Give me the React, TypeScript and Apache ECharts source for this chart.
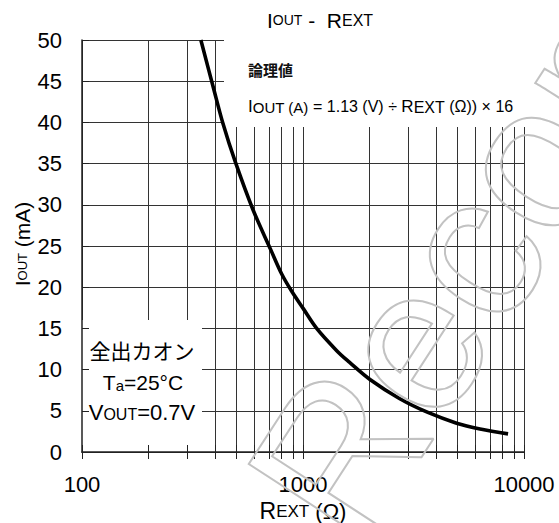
import React, { useEffect, useRef } from "react";
import * as echarts from "echarts";

// Curve values
const rExt = [345, 395, 433, 494, 594, 716, 801, 889, 1003, 1153, 1421, 1621, 2009, 2729, 3673, 4957, 6324, 8470];
const iOut = [50, 44, 40, 35.2, 29.4, 24.5, 21.6, 19.5, 17.4, 15.0, 12.3, 10.9, 8.8, 6.5, 4.8, 3.5, 2.8, 2.2];

const xMin = 100;
const xMax = 10000;
const yMin = 0;
const yMax = 50;
const yStep = 5;

const FONT = '"Liberation Sans", Arial, sans-serif';
const CJK = '"Noto Sans CJK JP", "Noto Sans CJK SC", sans-serif';
const GRID = "#333";
const AXIS = "#222";
const WM = "#c2c2c2";

export default function App() {
  const ref = useRef<HTMLDivElement>(null);

  useEffect(() => {
    if (!ref.current) return;
    const chart = echarts.init(ref.current, null, { renderer: "svg" });
    const data = rExt.map((r, i) => [r, iOut[i]]);

    const logAxisBase = {
      type: "log" as const,
      logBase: 10,
      min: xMin,
      max: xMax,
      gridIndex: 0,
    };

    const wmAngle = (57 * Math.PI) / 180;
    const wmX = 384;
    const wmY = 572;

    const option: any = {
      animation: false,
      backgroundColor: "#fff",
      grid: { left: 82, right: 35, top: 40, bottom: 71, containLabel: false, outerBoundsMode: "none" },
      xAxis: [
        {
          ...logAxisBase,
          position: "bottom",
          axisLine: { show: false },
          axisTick: { show: false },
          axisLabel: {
            show: true,
            fontSize: 22,
            margin: 21,
            color: "#000",
            fontFamily: FONT,
            formatter: (v: number) => String(Math.round(v)),
          },
          splitLine: { show: true, lineStyle: { color: GRID, width: 1 } },
          minorTick: { show: false, splitNumber: 9 },
          minorSplitLine: { show: true, lineStyle: { color: GRID, width: 1 } },
          z: 0,
        },
        {
          ...logAxisBase,
          position: "top",
          axisLine: { show: true, lineStyle: { color: AXIS, width: 1 } },
          axisTick: { show: true, inside: true, length: 7, lineStyle: { color: AXIS } },
          minorTick: { show: true, splitNumber: 9, length: 7, lineStyle: { color: AXIS } },
          axisLabel: { show: false },
          splitLine: { show: false },
          minorSplitLine: { show: false },
          z: 6,
        },
        {
          ...logAxisBase,
          position: "bottom",
          axisLine: { show: true, lineStyle: { color: AXIS, width: 1.5 } },
          axisTick: { show: true, inside: true, length: 7, lineStyle: { color: AXIS } },
          minorTick: { show: true, splitNumber: 9, length: 7, lineStyle: { color: AXIS } },
          axisLabel: { show: false },
          splitLine: { show: false },
          minorSplitLine: { show: false },
          z: 6,
        },
      ],
      yAxis: [
        {
          type: "value",
          min: yMin,
          max: yMax,
          interval: yStep,
          axisLine: { show: false },
          axisTick: { show: false },
          axisLabel: { show: true, fontSize: 22, margin: 20, color: "#000", fontFamily: FONT },
          splitLine: { show: true, lineStyle: { color: GRID, width: 1 } },
          z: 0,
        },
        {
          type: "value",
          min: yMin,
          max: yMax,
          interval: yStep,
          position: "left",
          axisLine: { show: true, lineStyle: { color: AXIS, width: 1.5 } },
          axisTick: { show: true, inside: true, length: 7, lineStyle: { color: AXIS } },
          axisLabel: { show: false },
          splitLine: { show: false },
          z: 6,
        },
      ],
      series: [
        {
          type: "line",
          xAxisIndex: 0,
          yAxisIndex: 0,
          data,
          smooth: 0.35,
          showSymbol: false,
          clip: true,
          lineStyle: { color: "#000", width: 3.6 },
          z: 10,
        },
      ],
      graphic: [
        { type: "rect", z: 5, shape: { x: 224, y: 40, width: 303, height: 87 }, style: { fill: "#fff" } },
        { type: "rect", z: 5, shape: { x: 82, y: 320, width: 120, height: 132 }, style: { fill: "#fff" } },
        {
          type: "text",
          z: 7,
          x: 320,
          y: 20,
          style: {
            text: "{a|I}{b|OUT}{a| -  R}{c|EXT}",
            align: "center",
            verticalAlign: "middle",
            fill: "#000",
            rich: {
              a: { fontSize: 21, fontFamily: FONT, fill: "#000" },
              b: { fontSize: 14, fontFamily: FONT, fill: "#000" },
              c: { fontSize: 16, fontFamily: FONT, fill: "#000" },
            },
          },
        },
        {
          type: "text",
          z: 7,
          x: 248,
          y: 69,
          style: {
            text: "論理値",
            font: `bold 15px ${CJK}`,
            fill: "#111",
            align: "left",
            verticalAlign: "middle",
          },
        },
        {
          type: "text",
          z: 7,
          x: 248,
          y: 106,
          style: {
            text: "{i|I}{b|OUT (A)}{a| = 1.13 (V) ÷ }{r|R}{e|EXT}{a| (Ω)) × 16}",
            align: "left",
            verticalAlign: "middle",
            fill: "#000",
            rich: {
              i: { fontSize: 17, fontFamily: FONT, fill: "#000" },
              a: { fontSize: 16, fontFamily: FONT, fill: "#000" },
              b: { fontSize: 15, fontFamily: FONT, fill: "#000", padding: [2, 0, 0, 0] },
              r: { fontSize: 17, fontFamily: FONT, fill: "#000" },
              e: { fontSize: 16, fontFamily: FONT, fill: "#000", padding: [2, 0, 0, 0] },
            },
          },
        },
        {
          type: "text",
          z: 7,
          x: 142,
          y: 350,
          style: { text: "全出カオン", font: `21px ${CJK}`, fill: "#000", align: "center", verticalAlign: "middle" },
        },
        {
          type: "text",
          z: 7,
          x: 143,
          y: 382,
          style: {
            text: "{a|T}{s|a}{a|=25°C}",
            align: "center",
            verticalAlign: "middle",
            fill: "#000",
            rich: {
              a: { fontSize: 21, fontFamily: FONT, fill: "#000" },
              s: { fontSize: 15, fontFamily: FONT, fill: "#000", padding: [6, 0, 0, 0] },
            },
          },
        },
        {
          type: "text",
          z: 7,
          x: 142,
          y: 412,
          style: {
            text: "{a|V}{s|OUT}{a|=0.7V}",
            align: "center",
            verticalAlign: "middle",
            fill: "#000",
            rich: {
              a: { fontSize: 22, fontFamily: FONT, fill: "#000" },
              s: { fontSize: 16, fontFamily: FONT, fill: "#000", padding: [4, 0, 0, 0] },
            },
          },
        },
        {
          type: "text",
          z: 7,
          x: 303,
          y: 511,
          style: {
            text: "{r|R}{e|EXT}{a| (Ω)}",
            align: "center",
            verticalAlign: "middle",
            fill: "#000",
            rich: {
              r: { fontSize: 23, fontFamily: FONT, fill: "#000" },
              e: { fontSize: 17, fontFamily: FONT, fill: "#000" },
              a: { fontSize: 22, fontFamily: FONT, fill: "#000" },
            },
          },
        },
        {
          type: "text",
          z: 7,
          x: 22,
          y: 244,
          rotation: Math.PI / 2,
          style: {
            text: "{a|I}{s|OUT}{a| (mA)}",
            align: "center",
            verticalAlign: "middle",
            fill: "#000",
            rich: {
              a: { fontSize: 21, fontFamily: FONT, fill: "#000" },
              s: { fontSize: 13, fontFamily: FONT, fill: "#000" },
            },
          },
        },
        {
          type: "text",
          z: 20,
          x: wmX,
          y: wmY,
          rotation: wmAngle,
          silent: true,
          style: {
            text: "Recommended",
            font: `205px ${FONT}`,
            fill: "none",
            stroke: WM,
            lineWidth: 2,
            align: "left",
            verticalAlign: "bottom",
          },
        },
        {
          type: "text",
          z: 20,
          x: wmX,
          y: wmY,
          rotation: wmAngle,
          silent: true,
          style: {
            text: "Not ",
            font: `205px ${FONT}`,
            fill: "none",
            stroke: WM,
            lineWidth: 2,
            align: "right",
            verticalAlign: "bottom",
          },
        },
      ],
    };

    chart.setOption(option);
    return () => chart.dispose();
  }, []);

  return (
    <div
      ref={ref}
      style={{ position: "fixed", left: 0, top: 0, width: 559, height: 523, background: "#fff" }}
    />
  );
}
